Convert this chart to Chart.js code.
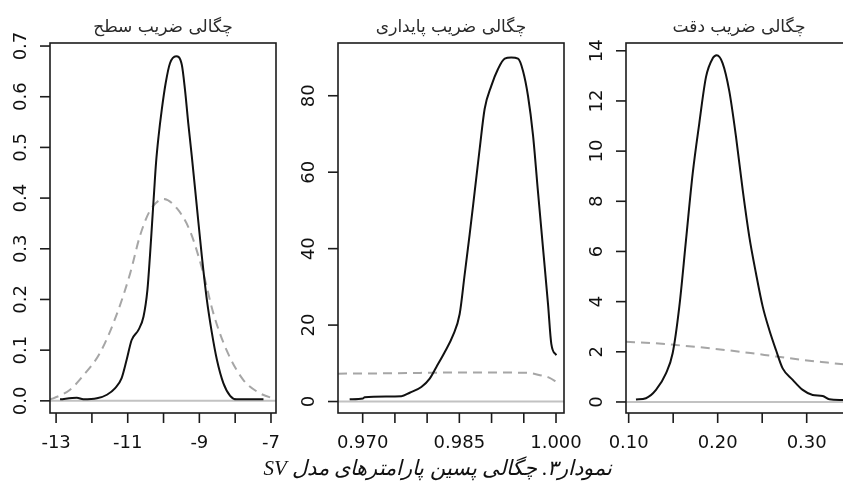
<!DOCTYPE html>
<html lang="fa">
<head>
<meta charset="utf-8">
<title>چگالی پسین پارامترهای مدل SV</title>
<script src="https://cdn.jsdelivr.net/npm/chart.js@4.4.1/dist/chart.umd.min.js"></script>
<style>
  html, body { margin: 0; padding: 0; background: #fff; }
  body { width: 843px; height: 487px; position: relative; overflow: hidden; }
  canvas.panel { position: absolute; top: 0; }
  .caption {
    position: absolute; top: 456px; left: 238px; width: 400px;
    text-align: center; direction: rtl; color: #111;
    font: italic 21px "Liberation Serif", "DejaVu Serif", serif;
  }
</style>
</head>
<body>
<canvas id="levelChart" class="panel" width="330" height="487" style="left:0px"></canvas>
<canvas id="persistChart" class="panel" width="330" height="487" style="left:288px"></canvas>
<canvas id="precisionChart" class="panel" width="330" height="487" style="left:576px"></canvas>
<div class="caption">نمودار۳. چگالی پسین پارامترهای مدل SV</div>

<script>
const panelTitles = ['چگالی ضریب سطح', 'چگالی ضریب پایداری', 'چگالی ضریب دقت'];

// level coefficient
const levelPostX = [-12.89, -12.42, -12.24, -11.86, -11.58, -11.35, -11.17, -11.03, -10.89, -10.70, -10.56, -10.45, -10.38, -10.32, -10.26, -10.21, -10.14, -10.05, -9.94, -9.82, -9.65, -9.49, -9.40, -9.31, -9.21, -9.07, -8.93, -8.79, -8.65, -8.51, -8.33, -8.14, -7.96, -7.21];
const levelPostY = [0.003, 0.006, 0.003, 0.005, 0.012, 0.025, 0.045, 0.081, 0.120, 0.140, 0.166, 0.219, 0.285, 0.350, 0.416, 0.469, 0.521, 0.574, 0.627, 0.666, 0.680, 0.663, 0.613, 0.548, 0.482, 0.383, 0.285, 0.199, 0.134, 0.081, 0.035, 0.010, 0.003, 0.003];
const levelPriorX = [-13.17, -13.08, -12.61, -12.24, -11.77, -11.31, -10.93, -10.66, -10.38, -10.00, -9.63, -9.26, -8.89, -8.61, -8.24, -7.77, -7.31, -6.93, -6.86];
const levelPriorY = [0.003, 0.005, 0.022, 0.050, 0.095, 0.170, 0.252, 0.325, 0.375, 0.398, 0.380, 0.335, 0.252, 0.173, 0.100, 0.041, 0.015, 0.005, 0.004];
const levelXTicks = [-13, -12, -11, -10, -9, -8, -7];
const levelXLabels = ['-13', '', '-11', '', '-9', '', '-7'];
const levelYTicks = [0, 0.1, 0.2, 0.3, 0.4, 0.5, 0.6, 0.7];
const levelYLabels = ['0.0', '0.1', '0.2', '0.3', '0.4', '0.5', '0.6', '0.7'];

// persistence coefficient
const persistPostX = [0.96798, 0.97005, 0.97030, 0.97600, 0.97730, 0.97910, 0.98040, 0.98142, 0.98272, 0.98401, 0.98505, 0.98583, 0.98660, 0.98738, 0.98816, 0.98893, 0.98996, 0.99100, 0.99204, 0.99306, 0.99410, 0.99488, 0.99565, 0.99643, 0.99720, 0.99798, 0.99876, 0.99927, 1.00004];
const persistPostY = [0.6, 0.8, 1.1, 1.4, 2.3, 3.8, 6.0, 9.0, 12.9, 17.3, 22.9, 33.3, 43.7, 54.9, 66.2, 76.6, 82.6, 87.0, 89.7, 90.0, 89.7, 86.5, 80.0, 69.7, 54.9, 40.2, 25.5, 15.1, 12.1];
const persistPriorX = [0.96617, 0.975, 0.985, 0.990, 0.9955, 0.9975, 0.9990, 1.0002];
const persistPriorY = [7.3, 7.4, 7.6, 7.6, 7.5, 6.9, 6.2, 5.0];
const persistXTicks = [0.970, 0.975, 0.980, 0.985, 0.990, 0.995, 1.000];
const persistXLabels = ['0.970', '', '', '0.985', '', '', '1.000'];
const persistYTicks = [0, 20, 40, 60, 80];
const persistYLabels = ['0', '20', '40', '60', '80'];

// precision coefficient
const precPostX = [0.1082, 0.1194, 0.1307, 0.1419, 0.1494, 0.1569, 0.1644, 0.1719, 0.1793, 0.1869, 0.1944, 0.1989, 0.2056, 0.2130, 0.2206, 0.2281, 0.2355, 0.2430, 0.2506, 0.2580, 0.2655, 0.2730, 0.2843, 0.2955, 0.3067, 0.3180, 0.3254, 0.3404, 0.3520];
const precPostY = [0.10, 0.15, 0.48, 1.14, 1.94, 3.80, 6.45, 9.10, 11.10, 12.96, 13.70, 13.82, 13.50, 12.40, 10.57, 8.45, 6.59, 5.13, 3.80, 2.87, 2.07, 1.34, 0.88, 0.48, 0.28, 0.24, 0.11, 0.08, 0.06];
const precPriorX = [0.097, 0.125, 0.153, 0.180, 0.209, 0.237, 0.266, 0.295, 0.323, 0.352];
const precPriorY = [2.40, 2.35, 2.27, 2.18, 2.07, 1.95, 1.81, 1.68, 1.57, 1.46];
const precXTicks = [0.10, 0.15, 0.20, 0.25, 0.30, 0.35];
const precXLabels = ['0.10', '', '0.20', '', '0.30', ''];
const precYTicks = [0, 2, 4, 6, 8, 10, 12, 14];
const precYLabels = ['0', '2', '4', '6', '8', '10', '12', '14'];

function toPoints(xs, ys) {
    return xs.map((x, i) => ({ x: x, y: ys[i] }));
}

function strokeLine(ctx, x1, y1, x2, y2) {
    ctx.beginPath();
    ctx.moveTo(x1, y1);
    ctx.lineTo(x2, y2);
    ctx.stroke();
}

// R style box, outside ticks and rotated y labels
const rAxes = {
    id: 'rAxes',
    beforeDatasetsDraw(chart) {
        const { ctx, chartArea: a, scales } = chart;
        const y0 = scales.y.getPixelForValue(0);
        ctx.save();
        ctx.strokeStyle = '#c2c2c2';
        ctx.lineWidth = 2;
        strokeLine(ctx, a.left, y0, a.right, y0);
        ctx.restore();
    },
    afterDraw(chart, args, opts) {
        const { ctx, chartArea: a, scales } = chart;
        ctx.save();
        ctx.strokeStyle = '#1c1c1c';
        ctx.lineWidth = 1.6;
        ctx.strokeRect(a.left, a.top, a.right - a.left, a.bottom - a.top);

        ctx.font = '18px "DejaVu Sans"';
        ctx.fillStyle = '#111';
        ctx.textAlign = 'center';
        ctx.textBaseline = 'middle';

        opts.xTicks.forEach((v, i) => {
            const px = scales.x.getPixelForValue(v);
            strokeLine(ctx, px, a.bottom, px, a.bottom + 10);
            if (opts.xLabels[i]) ctx.fillText(opts.xLabels[i], px, a.bottom + 30);
        });
        opts.yTicks.forEach((v, i) => {
            const py = scales.y.getPixelForValue(v);
            strokeLine(ctx, a.left - 10, py, a.left, py);
            if (opts.yLabels[i]) {
                ctx.save();
                ctx.translate(a.left - 29, py);
                ctx.rotate(-Math.PI / 2);
                ctx.fillText(opts.yLabels[i], 0, 0);
                ctx.restore();
            }
        });
        ctx.restore();
    }
};

function makePanel(id, title, post, prior, xRange, yRange, axes) {
    return new Chart(document.getElementById(id), {
        type: 'line',
        data: {
            datasets: [{
                data: post,
                borderColor: '#111',
                borderWidth: 2,
                pointRadius: 0,
                cubicInterpolationMode: 'monotone'
            }, {
                data: prior,
                borderColor: '#a6a6a6',
                borderWidth: 2,
                borderDash: [9, 6],
                pointRadius: 0,
                cubicInterpolationMode: 'monotone'
            }]
        },
        options: {
            responsive: false,
            animation: false,
            layout: { padding: { left: 50, right: 54, top: 17, bottom: 74 } },
            plugins: {
                legend: { display: false },
                tooltip: { enabled: false },
                title: {
                    display: true,
                    text: title,
                    color: '#2a2a2a',
                    font: { family: 'DejaVu Sans', size: 17, weight: 'normal', lineHeight: 1.2 },
                    padding: { top: 0, bottom: 5.6 }
                },
                rAxes: axes
            },
            scales: {
                x: { type: 'linear', min: xRange[0], max: xRange[1], display: false },
                y: { type: 'linear', min: yRange[0], max: yRange[1], display: false }
            }
        },
        plugins: [rAxes]
    });
}

makePanel('levelChart', panelTitles[0],
    toPoints(levelPostX, levelPostY), toPoints(levelPriorX, levelPriorY),
    [-13.17, -6.86], [-0.024, 0.706],
    { xTicks: levelXTicks, xLabels: levelXLabels, yTicks: levelYTicks, yLabels: levelYLabels });

makePanel('persistChart', panelTitles[1],
    toPoints(persistPostX, persistPostY), toPoints(persistPriorX, persistPriorY),
    [0.96617, 1.00124], [-3.0, 93.8],
    { xTicks: persistXTicks, xLabels: persistXLabels, yTicks: persistYTicks, yLabels: persistYLabels });

makePanel('precisionChart', panelTitles[2],
    toPoints(precPostX, precPostY), toPoints(precPriorX, precPriorY),
    [0.097, 0.3509], [-0.44, 14.31],
    { xTicks: precXTicks, xLabels: precXLabels, yTicks: precYTicks, yLabels: precYLabels });
</script>
</body>
</html>
